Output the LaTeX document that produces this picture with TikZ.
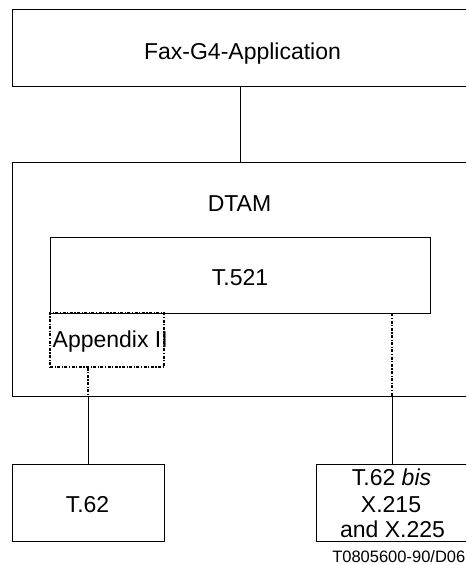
\documentclass[tikz,border=0pt]{standalone}
\usepackage{fontspec}
\setmainfont{Liberation Sans}
\begin{document}
\begin{tikzpicture}[x=1pt,y=-1pt,
  box/.style={draw, line width=0.9pt, inner sep=0pt},
  lbl/.style={inner sep=0pt, anchor=base, font=\fontsize{23}{27}\selectfont},
  conn/.style={line width=0.9pt},
  dd/.style={line width=1.2pt, dash pattern=on 3pt off 1.5pt on 1.2pt off 1.5pt}]
\useasboundingbox (0,0) rectangle (466,565);
\clip (0,0) rectangle (466,565);
\node[box, minimum width=461pt, minimum height=77pt] (fax) at (242.5,47.5) {};
\node[lbl] (faxl) at (242.5,59) {Fax-G4-Application};
\node[box, minimum width=461pt, minimum height=234pt] (dtam) at (242.5,279) {};
\node[lbl] (dtaml) at (239.5,211.5) {DTAM};
\node[box, minimum width=380pt, minimum height=76pt] (t521) at (240,275) {};
\node[lbl] (t521l) at (240,285) {T.521};
\node[lbl, anchor=base west] (appl) at (52.5,347.5) {Appendix II};
\node[draw, dd, inner sep=0pt, minimum width=114pt, minimum height=54pt] (app) at (107,340) {};
\node[box, minimum width=152pt, minimum height=77pt] (t62) at (88,502.5) {};
\node[lbl] (t62l) at (87.5,512) {T.62};
\node[box, minimum width=152pt, minimum height=77pt] (rb) at (392,502.5) {};
\node[lbl] (rbl1) at (391.5,485) {T.62 \textit{bis}};
\node[lbl] (rbl2) at (391,512) {X.215};
\node[lbl] (rbl3) at (392.5,537) {and X.225};
\node[inner sep=0pt, anchor=base east, font=\fontsize{16.5}{18}\selectfont] (cap) at (465.5,562) {T0805600-90/D06};
\draw[conn] (fax.south -| t521.north) -- (dtam.north -| t521.north);
\coordinate (lb) at (dtam.south -| t62.north);
\coordinate (rbt) at (dtam.south -| rb.north);
\draw[dd] (app.south -| t62.north) -- (lb);
\draw[conn] (lb) -- (t62.north);
\draw[dd] (t521.south -| rb.north) -- (rbt);
\draw[conn] (rbt) -- (rb.north);
\end{tikzpicture}
\end{document}
